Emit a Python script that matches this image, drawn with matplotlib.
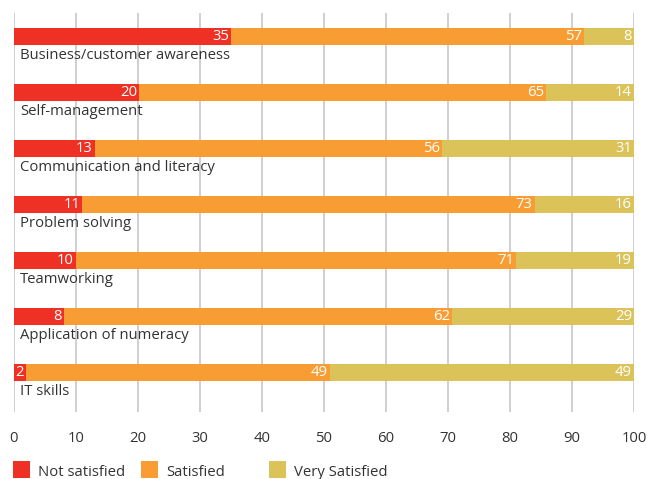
import matplotlib
matplotlib.use("Agg")
import matplotlib.pyplot as plt
from matplotlib.patches import Rectangle
import numpy as np

plt.rcParams['font.family'] = ['Open Sans', 'DejaVu Sans']

skills = ["Business/customer awareness", "Self-management", "Communication and literacy",
          "Problem solving", "Teamworking", "Application of numeracy", "IT skills"]
not_satisfied = [35, 20, 13, 11, 10, 8, 2]
satisfied = [57, 65, 56, 73, 71, 62, 49]
very_satisfied = [8, 14, 31, 16, 19, 29, 49]
series_names = ["Not satisfied", "Satisfied", "Very Satisfied"]
colors = ["#ee3124", "#f89d33", "#dbc35a"]
x_ticks = list(range(0, 101, 10))

W, H = 649, 479
fig = plt.figure(figsize=(W / 100, H / 100), dpi=100)
ax = fig.add_axes([14 / W, 1 - 412 / H, 620 / W, (412 - 13) / H])

all_vals = np.array([not_satisfied, satisfied, very_satisfied], dtype=float)
# rounded shares don't always add to 100, bars are drawn as full rows
shares = all_vals / all_vals.sum(axis=0) * 100

ypos = np.arange(len(skills))
bar_h = 17 / 56
left = np.zeros(len(skills))
for vals, share, color, name in zip(all_vals, shares, colors, series_names):
    bars = ax.barh(ypos, share, left=left, height=bar_h, color=color, label=name, zorder=2)
    for rect, v in zip(bars, vals):
        ax.annotate(str(int(v)), (rect.get_x() + rect.get_width(), rect.get_y() + rect.get_height() / 2),
                    xytext=(-1.5, 0), textcoords="offset points", ha="right", va="center",
                    color="white", fontsize=10.7, zorder=3)
    left = left + share

for y, name in zip(ypos, skills):
    ax.annotate(name, (0, y), xytext=(4.5, -14), textcoords="offset points",
                ha="left", va="center", fontsize=10.7, color="#333333")

ax.set_xlim(0, 100)
ax.set_ylim(6.705, -0.42)
ax.set_xticks(x_ticks)
ax.set_yticks([])
ax.tick_params(axis="x", length=0, pad=14, labelsize=10.7, labelcolor="#333333")
ax.grid(axis="x", color="#cccccc", linewidth=1.3, zorder=0)
for s in ax.spines.values():
    s.set_visible(False)

# legend drawn by hand, fixed column width
for i, (name, color) in enumerate(zip(series_names, colors)):
    x0 = (13 + i * 128) / W
    fig.patches.append(Rectangle((x0, 1 / H), 17 / W, 17 / H, transform=fig.transFigure,
                                 facecolor=color, edgecolor="none"))
    fig.text(x0 + 25 / W, 7 / H, name, ha="left", va="center", fontsize=10.7, color="#333333")

fig.savefig("out.png", dpi=100)
